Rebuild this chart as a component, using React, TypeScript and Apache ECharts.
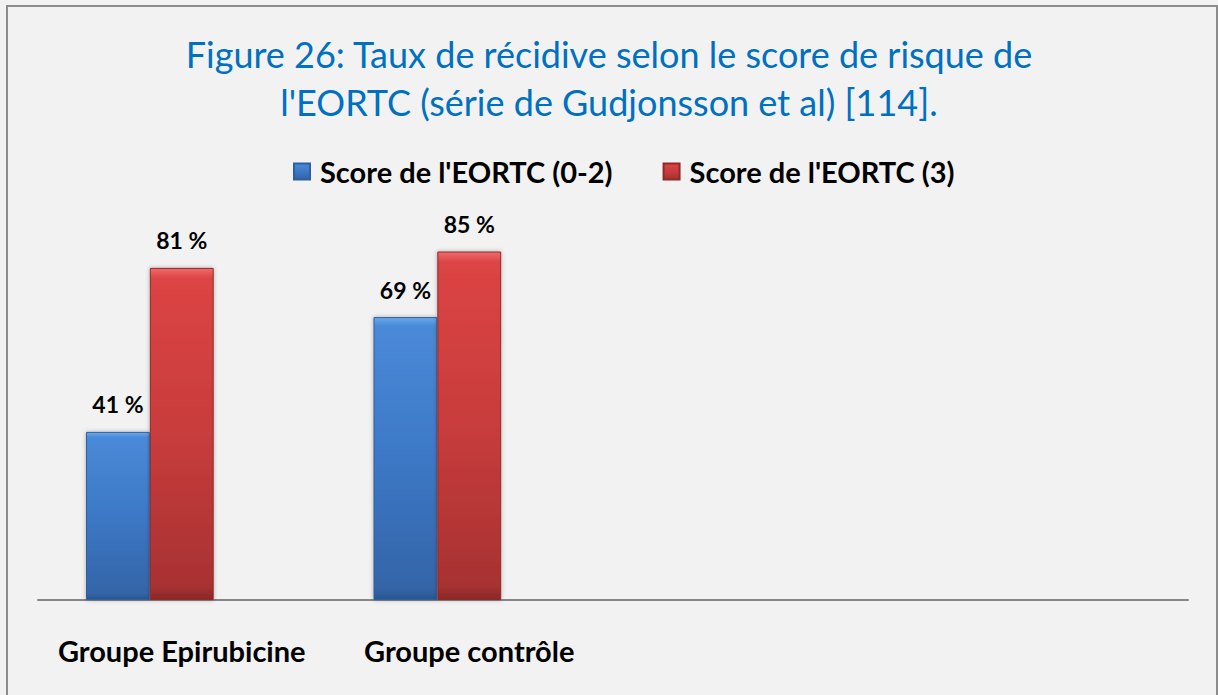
import React, { useEffect, useRef } from "react";
import * as echarts from "echarts";

const categories = ["Groupe Epirubicine", "Groupe contrôle", "", ""];
const seriesNames = ["Score de l'EORTC (0-2)", "Score de l'EORTC (3)", "Série 3"];
const scoreLow = [41, 69, null, null];
const scoreHigh = [81, 85, null, null];
const scoreEmpty = [null, null, null, null];
const titleLines = ["Figure 26: Taux de récidive selon le score de risque de", "l'EORTC (série de Gudjonsson et al) [114]."];

const FONT = "Lato, 'Open Sans', sans-serif";

const blueGrad = new echarts.graphic.LinearGradient(0, 0, 0, 1, [
  { offset: 0, color: "#6aa8ee" },
  { offset: 0.03, color: "#4a8ad8" },
  { offset: 0.5, color: "#3c78c6" },
  { offset: 0.96, color: "#3465a8" },
  { offset: 1, color: "#2a5590" },
]);
const redGrad = new echarts.graphic.LinearGradient(0, 0, 0, 1, [
  { offset: 0, color: "#f06a6a" },
  { offset: 0.03, color: "#dc4444" },
  { offset: 0.5, color: "#c83c3c" },
  { offset: 0.96, color: "#a83232" },
  { offset: 1, color: "#8a2828" },
]);

export default function App() {
  const ref = useRef<HTMLDivElement>(null);
  useEffect(() => {
    document.body.style.margin = "0";
    const chart = echarts.init(ref.current!, null, { renderer: "svg" });
    const label = {
      show: true,
      position: "top",
      distance: 16,
      formatter: (p: any) => `${p.value} %`,
      fontFamily: FONT,
      fontWeight: "bold",
      fontSize: 23,
      color: "#000",
    };
    chart.setOption({
      animation: false,
      backgroundColor: "#f2f2f2",
      title: {
        text: titleLines.join("\n"),
        left: "center",
        top: 25,
        textStyle: {
          fontFamily: FONT,
          fontWeight: "normal",
          fontSize: 36,
          lineHeight: 48,
          color: "#0070c0",
        },
      },
      legend: {
        data: [seriesNames[0], seriesNames[1]],
        top: 152,
        left: 288,
        itemWidth: 16,
        itemHeight: 16,
        itemGap: 50,
        icon: "rect",
        textStyle: {
          fontFamily: FONT,
          fontWeight: "bold",
          fontSize: 29,
          color: "#000",
          padding: [0, 0, 0, 5],
        },
      },
      grid: { left: 38, right: 30, top: 190, bottom: 95, containLabel: false },
      xAxis: {
        type: "category",
        data: categories,
        axisLine: { lineStyle: { color: "#868686", width: 2 } },
        axisTick: { show: false },
        axisLabel: {
          interval: 0,
          fontFamily: FONT,
          fontWeight: "bold",
          fontSize: 29,
          color: "#000",
          margin: 36,
        },
      },
      yAxis: {
        type: "value",
        min: 0,
        max: 100,
        show: false,
        splitLine: { show: false },
      },
      series: [
        {
          name: seriesNames[0],
          type: "bar",
          data: scoreLow,
          barGap: "0%",
          barCategoryGap: "33.4%",
          itemStyle: {
            color: blueGrad,
            borderColor: "#2f5f9e",
            borderWidth: 1,
            shadowBlur: 4,
            shadowColor: "rgba(0,0,0,0.3)",
          },
          label,
        },
        {
          name: seriesNames[1],
          type: "bar",
          data: scoreHigh,
          itemStyle: {
            color: redGrad,
            borderColor: "#8e2a2a",
            borderWidth: 1,
            shadowBlur: 4,
            shadowColor: "rgba(0,0,0,0.3)",
          },
          label,
        },
        {
          name: seriesNames[2],
          type: "bar",
          data: scoreEmpty,
          itemStyle: { color: "#9bbb59" },
        },
      ],
      graphic: [
        {
          type: "rect",
          shape: { x: 7, y: 6, width: 1210, height: 700 },
          style: { fill: "none", stroke: "#8c8c8c", lineWidth: 2 },
          silent: true,
        },
      ],
    });
    return () => chart.dispose();
  }, []);
  return <div ref={ref} style={{ position: "fixed", left: 0, top: 0, width: 1218, height: 695 }} />;
}
